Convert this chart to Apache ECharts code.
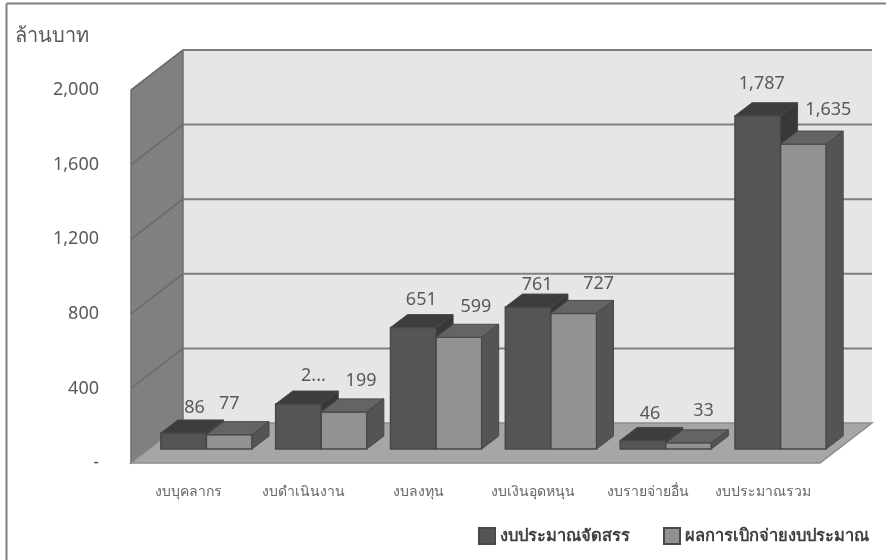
<!DOCTYPE html>
<html>
<head>
<meta charset="utf-8">
<style>
  html, body { margin: 0; padding: 0; background: #fff; }
  #chart { width: 886px; height: 560px; }
</style>
<script src="https://cdn.jsdelivr.net/npm/echarts@6/dist/echarts.min.js"></script>
</head>
<body>
<div id="chart"></div>
<script>
const categories = ["งบบุคลากร", "งบดำเนินงาน", "งบลงทุน", "งบเงินอุดหนุน", "งบรายจ่ายอื่น", "งบประมาณรวม"];
const allocated = [86, 241, 651, 761, 46, 1787];
const disbursed = [77, 199, 599, 727, 33, 1635];
const allocatedLabels = ["86", "2...", "651", "761", "46", "1,787"];
const disbursedLabels = ["77", "199", "599", "727", "33", "1,635"];
const yTicks = [0, 400, 800, 1200, 1600, 2000];
const allocatedName = "งบประมาณจัดสรร";
const disbursedName = "ผลการเบิกจ่ายงบประมาณ";
const yTitle = "ล้านบาท";

const font = "'Noto Sans', sans-serif";

// depth of the fake 3D box, in pixels
const wallDx = 52, wallDy = -40;
const barDx = 17, barDy = -13;
const floorDx = 18, floorDy = -14;

// the data labels were dragged by hand in the original
const allocatedNudge = [[11, -25], [15, -28], [8, -28], [9, -22], [7, -27], [4, -32]];
const disbursedNudge = [[0, -31], [17, -31], [17, -30], [25, -30], [15, -32], [25, -34]];

const chart = echarts.init(document.getElementById("chart"));

function poly(points, fill, stroke, lineWidth) {
  return {
    type: "polygon",
    shape: { points: points },
    style: { fill: fill, stroke: stroke || fill, lineWidth: lineWidth || 0 },
  };
}

function renderWalls(params, api) {
  const bl = api.coord([0, 0]);
  const tl = api.coord([0, 2000]);
  const left = bl[0] - api.size([1, 0])[0] / 2;
  const right = left + api.size([1, 0])[0] * categories.length;
  return {
    type: "group",
    children: [
      poly([[left + wallDx, tl[1] + wallDy], [right + wallDx, tl[1] + wallDy], [right + wallDx, bl[1] + wallDy], [left + wallDx, bl[1] + wallDy]], "#e6e6e6"),
      poly([[left, tl[1]], [left + wallDx, tl[1] + wallDy], [left + wallDx, bl[1] + wallDy], [left, bl[1]]], "#808080", "#6e6e6e", 1.5),
      poly([[left, bl[1]], [left + wallDx, bl[1] + wallDy], [right + wallDx, bl[1] + wallDy], [right, bl[1]]], "#a6a6a6", "#8c8c8c", 1.5),
    ],
  };
}

function renderGridline(params, api) {
  const p = api.coord([0, api.value(0)]);
  const left = p[0] - api.size([1, 0])[0] / 2;
  const right = left + api.size([1, 0])[0] * categories.length;
  if (api.value(0) === 0) return { type: "group", children: [] };
  return {
    type: "group",
    children: [
      { type: "line", shape: { x1: left, y1: p[1], x2: left + wallDx, y2: p[1] + wallDy }, style: { stroke: "#6a6a6a", lineWidth: 1.5 } },
      { type: "line", shape: { x1: left + wallDx, y1: p[1] + wallDy, x2: right + wallDx, y2: p[1] + wallDy }, style: { stroke: "#7f7f7f", lineWidth: 2 } },
    ],
  };
}

function barRenderer(side, front, top, flank, labels, nudge) {
  return function (params, api) {
    const i = params.dataIndex;
    const band = api.size([1, 0])[0];
    const w = band * 0.397;
    const base = api.coord([i, 0]);
    const head = api.coord([i, api.value(1)]);
    const x0 = base[0] + floorDx + (side === 0 ? -w : 0);
    const x1 = x0 + w;
    const y0 = base[1] + floorDy;
    const y1 = head[1] + floorDy;
    const edge = "#484848";
    return {
      type: "group",
      children: [
        poly([[x0, y1], [x1, y1], [x1, y0], [x0, y0]], front, edge, 1.5),
        poly([[x0, y1], [x0 + barDx, y1 + barDy], [x1 + barDx, y1 + barDy], [x1, y1]], top, edge, 1),
        poly([[x1, y1], [x1 + barDx, y1 + barDy], [x1 + barDx, y0 + barDy], [x1, y0]], flank, edge, 1),
        {
          type: "text",
          x: (x0 + x1) / 2 + nudge[i][0],
          y: y1 + nudge[i][1],
          style: { text: labels[i], fill: "#595959", font: "18px " + font, align: "center", verticalAlign: "middle" },
        },
      ],
    };
  };
}

const option = {
  animation: false,
  backgroundColor: "#fff",
  textStyle: { fontFamily: font },
  grid: { left: 131, right: 66, top: 90, bottom: 97, containLabel: false },
  xAxis: {
    type: "category",
    data: categories,
    axisLine: { show: false },
    axisTick: { show: false },
    axisLabel: { color: "#666666", fontSize: 14, margin: 22, interval: 0 },
  },
  yAxis: {
    type: "value",
    min: 0,
    max: 2000,
    interval: 400,
    axisLine: { show: false },
    axisTick: { show: false },
    splitLine: { show: false },
    axisLabel: {
      color: "#595959",
      fontSize: 18,
      margin: 32,
      padding: [2, 0, 0, 0],
      formatter: (v) => (v === 0 ? "-" : v.toLocaleString("en-US")),
    },
  },
  legend: {
    data: [allocatedName, disbursedName],
    left: 473,
    top: 522,
    icon: "rect",
    itemWidth: 16,
    itemHeight: 16,
    itemGap: 33,
    textStyle: { color: "#404040", fontSize: 16.5, fontWeight: "bold" },
  },
  graphic: [
    { type: "line", shape: { x1: 6.5, y1: 3.5, x2: 6.5, y2: 560 }, style: { stroke: "#7f7f7f", lineWidth: 2 } },
    { type: "line", shape: { x1: 6.5, y1: 3.5, x2: 886, y2: 3.5 }, style: { stroke: "#7f7f7f", lineWidth: 2 } },
    { type: "text", left: 15, top: 26, style: { text: yTitle, fill: "#595959", font: "20px " + font } },
  ],
  series: [
    { name: "walls", type: "custom", coordinateSystem: "cartesian2d", z: 1, silent: true, data: [[0, 0]], renderItem: renderWalls, encode: { x: 0, y: 1 } },
    { name: "gridlines", type: "custom", coordinateSystem: "cartesian2d", z: 2, silent: true, data: yTicks.map((t) => [t]), renderItem: renderGridline, encode: { y: 0 } },
    {
      name: allocatedName, type: "custom", coordinateSystem: "cartesian2d", z: 3,
      itemStyle: { color: "#555555", borderColor: "#484848", borderWidth: 1 },
      data: allocated.map((v, i) => [i, v]),
      encode: { x: 0, y: 1 },
      renderItem: barRenderer(0, "#555555", "#3d3d3d", "#383838", allocatedLabels, allocatedNudge),
    },
    {
      name: disbursedName, type: "custom", coordinateSystem: "cartesian2d", z: 4,
      itemStyle: { color: "#929292", borderColor: "#484848", borderWidth: 1 },
      data: disbursed.map((v, i) => [i, v]),
      encode: { x: 0, y: 1 },
      renderItem: barRenderer(1, "#929292", "#646464", "#545454", disbursedLabels, disbursedNudge),
    },
  ],
};

chart.setOption(option);
window.addEventListener("resize", () => chart.resize());
</script>
</body>
</html>
